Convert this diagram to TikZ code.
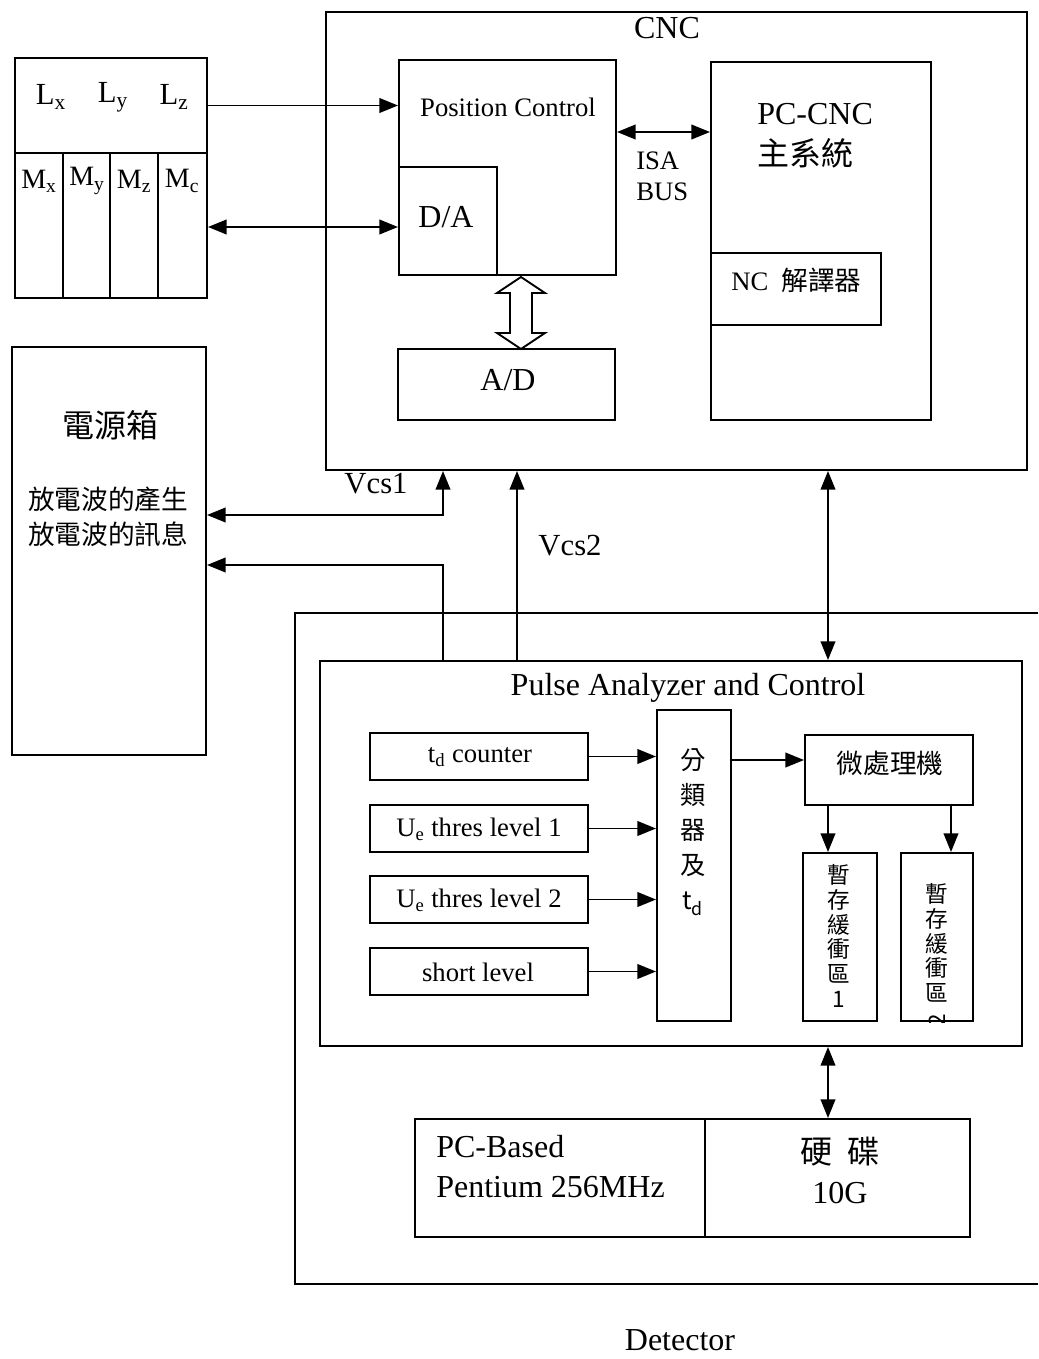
\documentclass[tikz,border=0pt]{standalone}
\usepackage{fontspec}
\setmainfont{Liberation Serif}
\newfontfamily\cjk{Noto Sans CJK TC}
\usetikzlibrary{arrows.meta,calc}
\begin{document}
\begin{tikzpicture}[x=0.75pt,y=-0.75pt,
  rect/.style n args={4}{draw, line width=1.5pt, inner sep=0pt,
     minimum width={(#3-#1)*0.75pt}, minimum height={(#4-#2)*0.75pt},
     at={({(#1+#3)/2},{(#2+#4)/2})}},
  lbl/.style={inner sep=0pt, align=center},
  big/.style={font=\fontsize{24}{30}\selectfont},
  mid/.style={font=\fontsize{20}{24}\selectfont},
  tip/.tip={Triangle[length=14pt,width=11pt]},
  conn/.style={line width=1.4pt},
  arr/.style={conn,-tip},
  darr/.style={conn,tip-tip}]
\useasboundingbox (0,0) rectangle (1038,1359);
% reference levels
\coordinate (y132) at (0,132);
\coordinate (y227) at (0,227);
\coordinate (y515) at (0,515);
\coordinate (y565) at (0,565);
\coordinate (y760) at (0,760);
\coordinate (x443) at (443,0);
\coordinate (x517) at (517,0);
\coordinate (x828) at (828,0);
\coordinate (x951) at (951,0);

% detector frame (open at right)
\draw[line width=1.5pt] (1038,613) -- (295,613) -- (295,1284) -- (1038,1284);
\node[lbl,big] (det) at (680,1340) {Detector};

% left axis box
\node[rect={15}{58}{207}{153}] (ltop) {};
\node[rect={15}{153}{63}{298}] (mx) {};
\node[rect={63}{153}{110}{298}] (my) {};
\node[rect={110}{153}{158}{298}] (mz) {};
\node[rect={158}{153}{207}{298}] (mc) {};
\node[lbl,font=\fontsize{23}{26}\selectfont] (lx) at (51,97) {L\textsubscript{x}};
\node[lbl,font=\fontsize{23}{26}\selectfont] (ly) at (113,97) {L\textsubscript{y}};
\node[lbl,font=\fontsize{23}{26}\selectfont] (lz) at (174,97) {L\textsubscript{z}};
\node[lbl,font=\fontsize{21}{24}\selectfont] (mxl) at (39,181) {M\textsubscript{x}};
\node[lbl,font=\fontsize{21}{24}\selectfont] (myl) at (87,181) {M\textsubscript{y}};
\node[lbl,font=\fontsize{21}{24}\selectfont] (mzl) at (134,181) {M\textsubscript{z}};
\node[lbl,font=\fontsize{21}{24}\selectfont] (mcl) at (182,181) {M\textsubscript{c}};

% CNC
\node[rect={326}{12}{1027}{470}] (cnc) {};
\node[lbl,big] (cnct) at (667,28) {CNC};
\node[rect={399}{60}{616}{275}] (pc) {};
\node[rect={399}{167}{497}{275}] (da) {};
\node[lbl,mid] (pct) at (508,107) {Position Control};
\node[lbl,big] (dat) at (446,217) {D/A};
\node[rect={398}{349}{615}{420}] (ad) {};
\node[lbl,big] (adt) at (508,380) {A/D};
\node[rect={711}{62}{931}{420}] (pccnc) {};
\node[rect={711}{253}{881}{325}] (nc) {};
\node[lbl,big,anchor=west] (pccnct) at (757,114) {PC-CNC};
\node[lbl,big,anchor=west] (zxt) at (757,153) {\cjk 主系統};
\node[lbl,mid,anchor=west] (nct) at (731,280) {NC\ \ {\cjk 解譯器}};
\node[lbl,anchor=west,align=left,font=\fontsize{20}{23}\selectfont] (isa) at (636,176) {ISA\\BUS};

% hollow double arrow
\draw[line width=1.4pt] (521,277) -- (545,293) -- (532,293) -- (532,333) -- (545,333) -- (521,349)
  -- (497,333) -- (510,333) -- (510,293) -- (497,293) -- cycle;

% power box
\node[rect={12}{347}{206}{755}] (power) {};
\node[lbl,big] (pwt) at (110,425) {\cjk 電源箱};
\node[lbl,font=\fontsize{20}{26}\selectfont\cjk] (pwt2) at (108,517) {放電波的產生\\放電波的訊息};

% pulse analyzer
\node[rect={320}{661}{1022}{1046}] (pa) {};
\node[lbl,big] (pat) at (688,688) {Pulse Analyzer and Control};
\node[rect={370}{733}{588}{780}] (td) {};
\node[rect={370}{805}{588}{852}] (ue1) {};
\node[rect={370}{876}{588}{923}] (ue2) {};
\node[rect={370}{948}{588}{995}] (sl) {};
\node[lbl,mid] at (480,757) {t\textsubscript{d} counter};
\node[lbl,mid] at (479,829) {U\textsubscript{e} thres level 1};
\node[lbl,mid] at (479,900) {U\textsubscript{e} thres level 2};
\node[lbl,mid] at (478,972) {short level};
\node[rect={657}{710}{731}{1021}] (cls) {};
\node[lbl,font=\fontsize{19}{26.25}\selectfont\cjk] (clst) at (693,832) {分\\類\\器\\及\\t\textsubscript{d}};
\node[rect={805}{735}{973}{805}] (micro) {};
\node[lbl,mid] (microt) at (890,763) {\cjk 微處理機};
\node[rect={803}{853}{877}{1021}] (buf1) {};
\node[rect={901}{853}{973}{1021}] (buf2) {};
\node[lbl,font=\fontsize{17}{18.6}\selectfont\cjk] (b1t) at (839,936) {暫\\存\\緩\\衝\\區\\1};
\begin{scope}
\clip (buf2.south west) rectangle (buf2.north east);
\node[lbl,font=\fontsize{17}{18.6}\selectfont\cjk] (b2t) at (937,955) {暫\\存\\緩\\衝\\區\\\rotatebox{90}{2}};
\end{scope}

% PC based
\node[rect={415}{1119}{705}{1237}] (pcb) {};
\node[rect={705}{1119}{970}{1237}] (hd) {};
\node[lbl,big,anchor=west,align=left] (pcbt) at (436,1167) {PC-Based\\Pentium 256MHz};
\node[lbl,big] (hdt) at (840,1170) {{\cjk 硬\ \ 碟}\\10G};

% connectors
\draw[arr] (ltop.east) -- (pc.west |- ltop.east);
\draw[darr] (mc.east |- y227) -- (da.west |- y227);
\draw[darr] (pc.east |- y132) -- (pccnc.west |- y132);
\draw[darr] (cnc.south -| x443) |- (power.east |- y515);
\draw[arr] (pa.north -| x443) |- (power.east |- y565);
\draw[arr] (pa.north -| x517) -- (cnc.south -| x517);
\draw[darr] (cnc.south -| x828) -- (pa.north -| x828);
\draw[darr] (pa.south -| x828) -- (hd.north -| x828);
\node[lbl,font=\fontsize{23}{26}\selectfont] (vcs1) at (376,484) {Vcs1};
\node[lbl,font=\fontsize{23}{26}\selectfont] (vcs2) at (570,546) {Vcs2};
\draw[arr] (td.east) -- (cls.west |- td.east);
\draw[arr] (ue1.east) -- (cls.west |- ue1.east);
\draw[arr] (ue2.east) -- (cls.west |- ue2.east);
\draw[arr] (sl.east) -- (cls.west |- sl.east);
\draw[arr] (cls.east |- y760) -- (micro.west |- y760);
\draw[arr] (micro.south -| x828) -- (buf1.north -| x828);
\draw[arr] (micro.south -| x951) -- (buf2.north -| x951);
\end{tikzpicture}
\end{document}
